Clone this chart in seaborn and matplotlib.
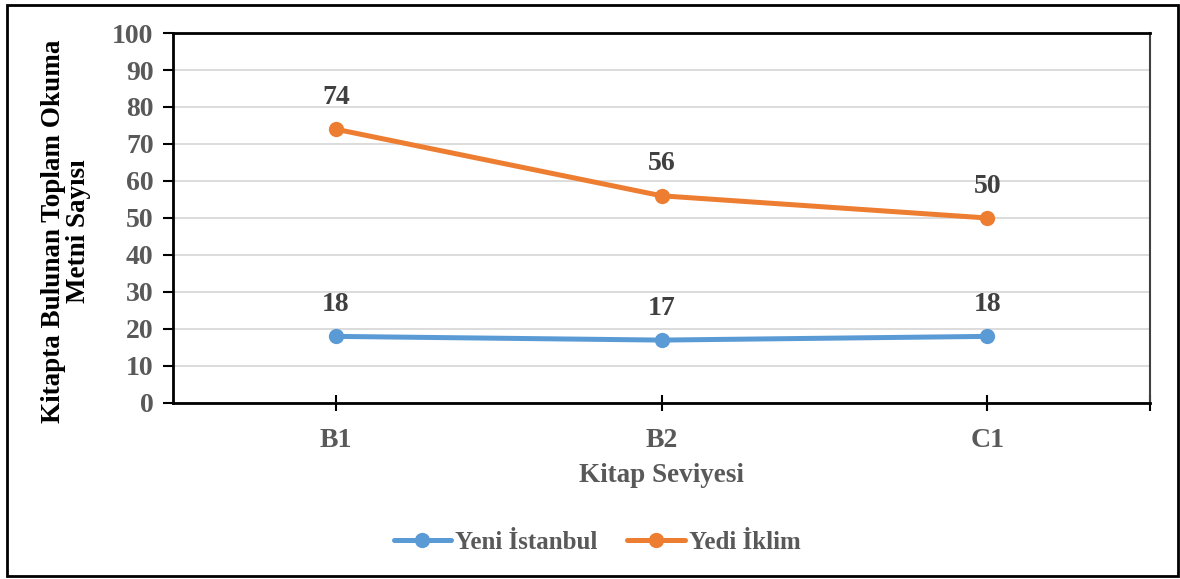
import pandas as pd
import matplotlib
matplotlib.use('Agg')
import matplotlib.pyplot as plt
import seaborn as sns
from matplotlib.patches import Rectangle

# --- DATA ---
LEVELS = ["B1", "B2", "C1"]
YENI_ISTANBUL = [18, 17, 18]
YEDI_IKLIM = [74, 56, 50]
SERIES = ["Yeni İstanbul", "Yedi İklim"]
COLORS = ["#5B9BD5", "#ED7D31"]
Y_TICKS = list(range(0, 101, 10))

df = pd.DataFrame({
    "level": LEVELS * 2,
    "count": YENI_ISTANBUL + YEDI_IKLIM,
    "series": [SERIES[0]] * 3 + [SERIES[1]] * 3,
})

sns.set_style("white")
plt.rcParams['font.family'] = ['Liberation Serif', 'DejaVu Serif']
plt.rcParams['font.weight'] = 'bold'

fig = plt.figure(figsize=(11.8, 5.79), dpi=100)
ax = fig.add_axes([0.1466, 0.304, 0.828, 0.639])

ax.grid(axis="y", color="#D9D9D9", linewidth=1.3, zorder=0)
ax.set_axisbelow(True)

sns.lineplot(data=df, x="level", y="count", hue="series", hue_order=SERIES,
             palette=COLORS, marker="o", markersize=11, markeredgewidth=0,
             linewidth=3.6, ax=ax, legend=True, zorder=3)

# data labels
for i, name in enumerate(SERIES):
    vals = YENI_ISTANBUL if i == 0 else YEDI_IKLIM
    for xi, v in enumerate(vals):
        ax.annotate(str(v), (xi, v), xytext=(0, 23), textcoords="offset points",
                    ha="center", va="center", fontsize=20, fontweight="bold",
                    color="#404040")

ax.set_xlim(-0.5, 2.5)
ax.set_ylim(0, 100)
ax.set_yticks(Y_TICKS)
ax.set_xticks(range(len(LEVELS)))
ax.set_xticklabels(LEVELS)
ax.set_xticks([2.5], minor=True)

ax.tick_params(axis="y", which="major", direction="out", length=7, width=1.5,
               color="black", labelsize=20, labelcolor="#595959", pad=7, left=True)
ax.tick_params(axis="x", which="both", direction="inout", length=12, width=1.5,
               color="black", labelsize=20, labelcolor="#595959", pad=12, bottom=True)
for lab in ax.get_xticklabels() + ax.get_yticklabels():
    lab.set_fontweight("bold")

for side in ["left", "bottom", "top"]:
    ax.spines[side].set_color("black")
    ax.spines[side].set_linewidth(2)
ax.spines["right"].set_color("#404040")
ax.spines["right"].set_linewidth(1.5)

ax.set_xlabel("Kitap Seviyesi", fontsize=19.5, fontweight="bold", color="#595959", labelpad=7)
ax.set_ylabel("Kitapta Bulunan Toplam Okuma\nMetni Sayısı", fontsize=19.5,
              fontweight="bold", color="black", linespacing=1.0)
ax.yaxis.set_label_coords(-0.084, 0.465)

handles, labels = ax.get_legend_handles_labels()
ax.legend(handles, labels, loc="center", bbox_to_anchor=(0.434, -0.376),
          ncol=2, frameon=False, handlelength=2.3, columnspacing=1.2,
          handletextpad=0.15, labelcolor="#595959",
          prop={"weight": "bold", "size": 18})

fig.patches.append(Rectangle((0.006, 0.005), 0.992, 0.986, transform=fig.transFigure,
                             fill=False, edgecolor="black", linewidth=2))

plt.savefig("out.png", dpi=100)
